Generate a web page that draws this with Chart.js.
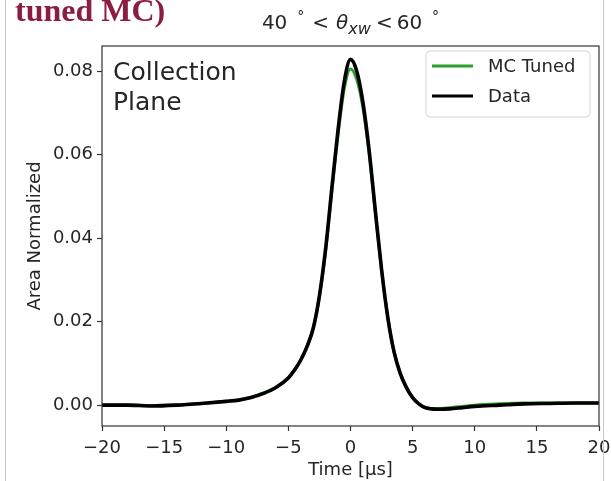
<!DOCTYPE html>
<html>
<head>
<meta charset="utf-8">
<script src="https://cdn.jsdelivr.net/npm/chart.js@4.4.0/dist/chart.umd.min.js"></script>
<style>
  html, body { margin: 0; padding: 0; background: #fff; }
  #wrap { position: relative; width: 611px; height: 481px; overflow: hidden; }
  #wrap::before, #wrap::after {
    content: ''; position: absolute; top: 0; bottom: 0; width: 1px; background: #c8c8c8;
  }
  #wrap::before { left: 5px; }
  #wrap::after { left: 603px; }
  #head {
    position: absolute; left: 15px; top: -8px;
    font: bold 32px "Liberation Serif", serif; color: #8a1d43;
  }
  canvas { position: absolute; left: 0; top: 0; }
</style>
</head>
<body>
<div id="wrap">
  <canvas id="myChart" width="611" height="481"></canvas>
  <div id="head">tuned MC)</div>
</div>
<script>
// pulse shape, time in microseconds
const timeUs = [-20, -18, -16, -14, -12, -10, -9, -8, -7, -6, -5, -4.5, -4, -3.5, -3, -2.5, -2, -1.5, -1, -0.5,
  0, 0.5, 1, 1.5, 2, 2.5, 3, 3.5, 4, 4.5, 5, 5.5, 6, 6.5, 7, 8, 9, 10, 12, 14, 16, 18, 20];
const dataVals = [0.0000, 0.0000, -0.0002, 0.0000, 0.0004, 0.0009, 0.0012, 0.0018, 0.0028, 0.0042, 0.0065, 0.0084,
  0.0108, 0.0140, 0.0184, 0.0262, 0.0375, 0.0520, 0.0660, 0.0775,
  0.0828, 0.0800, 0.0725, 0.0610, 0.0465, 0.0325, 0.0210, 0.0128, 0.0076, 0.0042, 0.0018, 0.0003, -0.0006, -0.0009,
  -0.0010, -0.0009, -0.0006, -0.0003, 0.0000, 0.0003, 0.0004, 0.0005, 0.0005];
const mcVals = [0.0000, 0.0000, -0.0001, 0.0000, 0.0004, 0.0009, 0.0012, 0.0019, 0.0029, 0.0043, 0.0066, 0.0085,
  0.0109, 0.0141, 0.0184, 0.0260, 0.0370, 0.0512, 0.0648, 0.0758,
  0.0805, 0.0780, 0.0712, 0.0602, 0.0462, 0.0324, 0.0211, 0.0129, 0.0077, 0.0043, 0.0018, 0.0003, -0.0005, -0.0008,
  -0.0008, -0.0006, -0.0003, 0.0000, 0.0003, 0.0005, 0.0005, 0.0005, 0.0005];
const seriesNames = ['MC Tuned', 'Data'];
const seriesColors = ['#2ca02c', '#000000'];
const yTicks = [0, 0.02, 0.04, 0.06, 0.08];

const FONT = 'DejaVu Sans';
const INK = '#262626';

function toPoints(vals) {
  return timeUs.map((t, i) => ({ x: t, y: vals[i] }));
}

// title with superscripts and subscript, mathtext-like spacing
const titlePlugin = {
  id: 'mathTitle',
  afterDraw(chart) {
    const ctx = chart.ctx;
    const parts = [
      { t: '40', f: '20px ' + FONT, dy: 0 },
      { t: '\u00b0', f: '14px ' + FONT, dy: -8, pre: 10 },
      { t: '<', f: '20px ' + FONT, dy: 0, pre: 8 },
      { t: '\u03b8', f: 'italic 20px ' + FONT, dy: 0, pre: 7 },
      { t: 'xw', f: 'italic 16px ' + FONT, dy: 5 },
      { t: '<', f: '20px ' + FONT, dy: 0, pre: 5 },
      { t: '60', f: '20px ' + FONT, dy: 0, pre: 4 },
      { t: '\u00b0', f: '14px ' + FONT, dy: -8, pre: 10 }
    ];
    ctx.save();
    let w = 0;
    parts.forEach(p => { ctx.font = p.f; p.w = ctx.measureText(p.t).width + (p.pre || 0); w += p.w; });
    const area = chart.chartArea;
    let x = (area.left + area.right) / 2 - w / 2;
    ctx.fillStyle = INK;
    ctx.textBaseline = 'alphabetic';
    parts.forEach(p => {
      ctx.font = p.f;
      ctx.fillText(p.t, x + (p.pre || 0), 29 + p.dy);
      x += p.w;
    });
    ctx.restore();
  }
};

// spines, inset label and legend box
const framePlugin = {
  id: 'frame',
  afterDatasetsDraw(chart) {
    const ctx = chart.ctx;
    const a = chart.chartArea;
    ctx.save();
    ctx.strokeStyle = '#333';
    ctx.lineWidth = 1.2;
    ctx.strokeRect(a.left, a.top, a.right - a.left, a.bottom - a.top);

    ctx.fillStyle = INK;
    ctx.font = '25px ' + FONT;
    ctx.textBaseline = 'alphabetic';
    ctx.fillText('Collection', a.left + 11, 80);
    ctx.fillText('Plane', a.left + 11, 110);

    // legend
    const bx = 426, by = 51, bw = 164, bh = 66;
    ctx.beginPath();
    ctx.roundRect(bx, by, bw, bh, 4);
    ctx.fillStyle = 'rgba(255,255,255,0.85)';
    ctx.fill();
    ctx.strokeStyle = '#d6d6d6';
    ctx.lineWidth = 1;
    ctx.stroke();
    ctx.font = '18px ' + FONT;
    ctx.textBaseline = 'middle';
    chart.data.datasets.forEach((ds, i) => {
      const y = 66 + i * 30;
      ctx.strokeStyle = ds.borderColor;
      ctx.lineWidth = 3;
      ctx.beginPath();
      ctx.moveTo(432, y);
      ctx.lineTo(473, y);
      ctx.stroke();
      ctx.fillStyle = INK;
      ctx.fillText(ds.label, 488, y + 1);
    });
    ctx.restore();
  }
};

new Chart(
  document.getElementById('myChart').getContext('2d'),
  {
    type: 'line',
    data: {
      datasets: [
        {
          label: seriesNames[0],
          data: toPoints(mcVals),
          borderColor: seriesColors[0],
          borderWidth: 3,
          order: 2
        },
        {
          label: seriesNames[1],
          data: toPoints(dataVals),
          borderColor: seriesColors[1],
          borderWidth: 3.6,
          order: 1
        }
      ]
    },
    plugins: [titlePlugin, framePlugin],
    options: {
      responsive: false,
      animation: false,
      devicePixelRatio: 1,
      layout: { padding: { top: 46, right: 12, left: 25, bottom: 0 } },
      elements: {
        point: { radius: 0 },
        line: { cubicInterpolationMode: 'monotone', borderCapStyle: 'round', borderJoinStyle: 'round' }
      },
      plugins: {
        legend: { display: false },
        tooltip: { enabled: false }
      },
      scales: {
        x: {
          type: 'linear',
          min: -20,
          max: 20,
          border: { display: false },
          grid: { drawOnChartArea: false, tickLength: 5, color: '#333', tickWidth: 1.2 },
          ticks: {
            stepSize: 5,
            padding: 7,
            color: INK,
            font: { family: FONT, size: 18 },
            maxRotation: 0,
            callback: v => (v < 0 ? '\u2212' + Math.abs(v) : String(v))
          },
          title: {
            display: true,
            text: 'Time [\u03bcs]',
            color: INK,
            font: { family: FONT, size: 18 },
            padding: { top: 1, bottom: 0 }
          },
          afterFit(scale) {
            scale.height = 55;
            scale.paddingLeft = 0;
            scale.paddingRight = 0;
          }
        },
        y: {
          min: -0.005,
          max: 0.086,
          border: { display: false },
          grid: { drawOnChartArea: false, tickLength: 5, color: '#333', tickWidth: 1.2 },
          afterBuildTicks(scale) { scale.ticks = yTicks.map(v => ({ value: v })); },
          ticks: {
            padding: 4,
            color: INK,
            font: { family: FONT, size: 18 },
            callback: v => v.toFixed(2)
          },
          title: {
            display: true,
            text: 'Area Normalized',
            color: INK,
            font: { family: FONT, size: 18 },
            padding: { top: 0, bottom: 4 }
          },
          afterFit(scale) {
            scale.width = 77;
            scale.paddingTop = 0;
            scale.paddingBottom = 0;
          }
        }
      }
    }
  }
);
</script>
</body>
</html>
